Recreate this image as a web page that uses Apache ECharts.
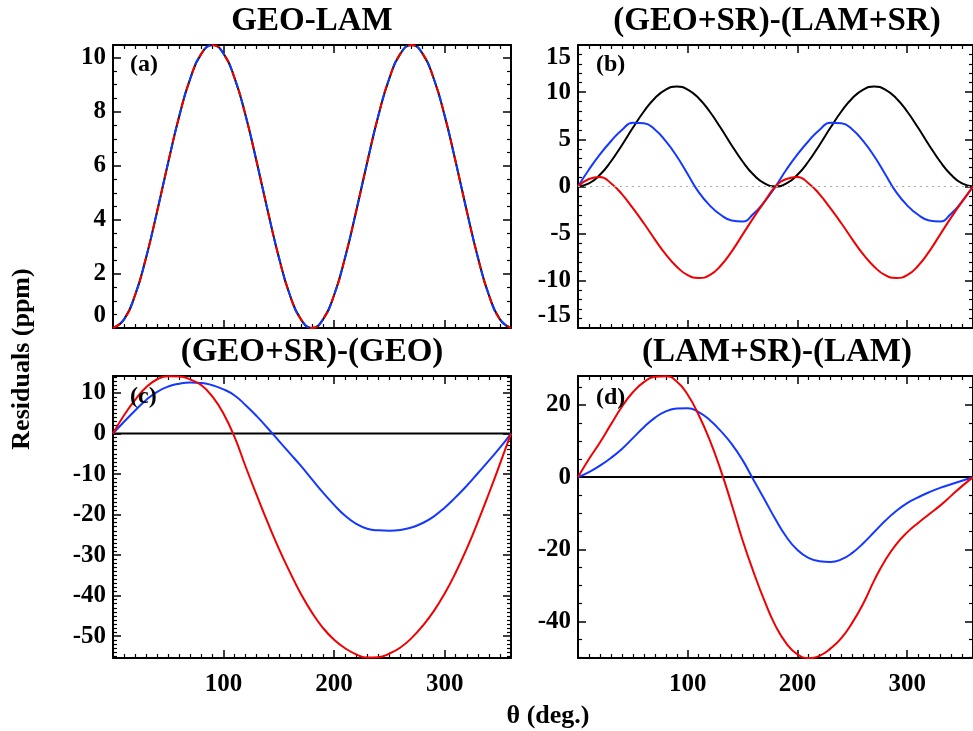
<!DOCTYPE html>
<html><head><meta charset="utf-8">
<script src="https://cdn.jsdelivr.net/npm/echarts@6/dist/echarts.min.js"></script>
<style>html,body{margin:0;padding:0;background:#fff}#c{width:973px;height:731px}</style>
</head><body><div id="c"></div>
<script>
// ---- data ----
const theta = [0,10,20,30,40,50,60,70,80,90,100,110,120,130,140,150,160,170,180,190,200,210,220,230,240,250,260,270,280,290,300,310,320,330,340,350,360];

const aGeoLam = [0,0.32,1.22,2.62,4.33,6.14,7.85,9.24,10.15,10.47,10.15,9.24,7.85,6.14,4.33,2.62,1.22,0.32,0,0.32,1.22,2.62,4.33,6.14,7.85,9.24,10.15,10.47,10.15,9.24,7.85,6.14,4.33,2.62,1.22,0.32,0];

const bBlack = [0,0.32,1.24,2.65,4.38,6.22,7.95,9.36,10.28,10.6,10.28,9.36,7.95,6.22,4.38,2.65,1.24,0.32,0,0.32,1.24,2.65,4.38,6.22,7.95,9.36,10.28,10.6,10.28,9.36,7.95,6.22,4.38,2.65,1.24,0.32,0];
const bBlue = [0,1.8,3.4,4.8,6.0,6.75,6.7,6.05,4.8,3.2,1.3,-0.6,-2.0,-3.0,-3.6,-3.7,-2.9,-1.6,0,1.8,3.4,4.8,6.0,6.75,6.7,6.05,4.8,3.2,1.3,-0.6,-2.0,-3.0,-3.6,-3.7,-2.9,-1.6,0];
const bRed = [0,0.8,1.0,0.35,-0.8,-2.3,-3.9,-5.6,-7.2,-8.5,-9.4,-9.7,-9.4,-8.4,-6.9,-5.1,-3.3,-1.6,0,0.8,1.0,0.35,-0.8,-2.3,-3.9,-5.6,-7.2,-8.5,-9.4,-9.7,-9.4,-8.4,-6.9,-5.1,-3.3,-1.6,0];

const cBlack = [0,0,0,0,0,0,0,0,0,0,0,0,0,0,0,0,0,0,0,0,0,0,0,0,0,0,0,0,0,0,0,0,0,0,0,0,0];
const cBlue = [0,2.9,5.7,8.3,10.3,11.6,12.3,12.6,12.5,11.9,10.9,9.4,7.0,4.3,1.3,-1.8,-4.9,-8.0,-11.3,-14.6,-17.6,-20.3,-22.3,-23.5,-23.9,-24.0,-23.8,-23.2,-22.1,-20.5,-18.3,-15.7,-12.9,-9.8,-6.7,-3.5,0];
const cRed = [0,4.5,8.3,11.4,13.4,14.15,14.1,13.3,11.9,9.1,4.9,-0.9,-8.2,-15.2,-22.0,-28.4,-34.2,-39.6,-44.2,-48.0,-50.9,-53.0,-54.5,-55.3,-55.2,-54.3,-52.8,-50.5,-47.5,-43.9,-39.5,-34.3,-28.4,-21.8,-14.8,-7.5,0];

const dBlack = [0,0,0,0,0,0,0,0,0,0,0,0,0,0,0,0,0,0,0,0,0,0,0,0,0,0,0,0,0,0,0,0,0,0,0,0,0];
const dBlue = [0,1.4,3.2,5.3,7.8,10.8,13.8,16.4,18.2,19.0,19.1,18.0,15.8,12.8,9.2,4.7,-0.8,-6.2,-11.7,-16.6,-20.2,-22.4,-23.3,-23.5,-22.8,-21.0,-18.3,-15.2,-12.1,-9.4,-7.2,-5.6,-4.2,-3.0,-2.0,-1.0,0];
const dRed = [0,5.0,9.6,14.6,19.5,23.5,26.3,27.8,27.9,26.5,22.8,17.2,10.3,2.0,-7.5,-17.5,-26.3,-34.3,-41.2,-46.1,-49.1,-50.1,-49.5,-47.5,-44.6,-40.3,-35.0,-28.6,-23.0,-18.6,-15.3,-12.7,-10.3,-7.9,-5.2,-2.5,0];

const panelTitles = ['GEO-LAM','(GEO+SR)-(LAM+SR)','(GEO+SR)-(GEO)','(LAM+SR)-(LAM)'];
const panelTags = ['(a)','(b)','(c)','(d)'];
const xTitle = 'θ (deg.)';
const yTitle = 'Residuals (ppm)';

// ---- layout / styles ----
const FONT = '"Liberation Serif", "DejaVu Serif", serif';
const RED = '#f00000', BLUE = '#1438ff', BLACK = '#000000';
const grids = [
  {left:113, top:45, width:398, height:283},
  {left:578, top:45, width:397, height:283},
  {left:113, top:376, width:398, height:282},
  {left:578, top:376, width:397, height:282}
];
const yCfg = [
  {min:0, max:10.47, interval:2, minor:4, showMin:true, showMax:false},
  {min:-15, max:15, interval:5, minor:5, showMin:true, showMax:true},
  {min:-55.4, max:14.2, splitNumber:7, minor:10, showMin:false, showMax:false},
  {min:-50.1, max:28, splitNumber:4, minor:4, showMin:false, showMax:false}
];

const zip = (ys) => theta.map((t, i) => [t, ys[i]]);
const lineStyleAxis = {color:'#000', width:2};
const labelStyle = {color:'#000', fontFamily:FONT, fontWeight:'bold', fontSize:25};

const xAxes = [], yAxes = [];
grids.forEach((g, i) => {
  ['bottom','top'].forEach(pos => {
    xAxes.push({
      gridIndex:i, type:'value', position:pos, min:0, max:360, interval:100,
      axisLine:{show:true, onZero:false, lineStyle:lineStyleAxis},
      axisTick:{show:true, inside:true, length:8, lineStyle:{color:'#000', width:1.5}},
      minorTick:{show:true, splitNumber:10, length:4, lineStyle:{color:'#000', width:1.2}},
      splitLine:{show:false}, minorSplitLine:{show:false},
      axisLabel:Object.assign({show: pos==='bottom' && i>=2, margin:14, showMinLabel:false, showMaxLabel:false}, labelStyle)
    });
  });
  const c = yCfg[i];
  ['left','right'].forEach(pos => {
    const ax = {
      gridIndex:i, type:'value', position:pos, min:c.min, max:c.max,
      axisLine:{show:true, onZero:false, lineStyle:lineStyleAxis},
      axisTick:{show:true, inside:true, length:8, lineStyle:{color:'#000', width:1.5}},
      minorTick:{show:true, splitNumber:c.minor, length:4, lineStyle:{color:'#000', width:1.2}},
      splitLine:{show:false}, minorSplitLine:{show:false},
      axisLabel:Object.assign({show: pos==='left', margin:7, showMinLabel:c.showMin, showMaxLabel:c.showMax,
        verticalAlignMinLabel:'bottom', verticalAlignMaxLabel:'top'}, labelStyle)
    };
    if (c.interval) ax.interval = c.interval; else ax.splitNumber = c.splitNumber;
    yAxes.push(ax);
  });
});

function line(gi, ys, color, extra) {
  return Object.assign({
    type:'line', xAxisIndex:gi*2, yAxisIndex:gi*2, data:zip(ys), smooth:0.5,
    showSymbol:false, symbol:'none', clip:true, silent:true,
    lineStyle:{color:color, width:2}
  }, extra || {});
}

const series = [
  line(0, aGeoLam, BLACK),
  line(0, aGeoLam, RED, {lineStyle:{color:RED, width:2, type:[8,10]}}),
  line(0, aGeoLam, BLUE, {lineStyle:{color:BLUE, width:2, type:[8,10], dashOffset:9}}),
  line(1, bBlack, BLACK, {markLine:{silent:true, symbol:'none', label:{show:false},
      lineStyle:{color:'#aaaaaa', width:1, type:[2,4]}, data:[{yAxis:0}]}}),
  line(1, bBlue, BLUE),
  line(1, bRed, RED),
  line(2, cBlack, BLACK),
  line(2, cBlue, BLUE),
  line(2, cRed, RED),
  line(3, dBlack, BLACK),
  line(3, dBlue, BLUE),
  line(3, dRed, RED)
];

const titlePos = [[312,21],[777,21],[312,352],[777,352]];
const tagPos = [[130,65],[596,65],[130,397],[596,398]];
const graphic = [];
panelTitles.forEach((t, i) => graphic.push({type:'text', x:titlePos[i][0], y:titlePos[i][1], z:100,
  style:{text:t, font:'bold 33px ' + FONT, fill:'#000', align:'center', verticalAlign:'middle'}}));
panelTags.forEach((t, i) => graphic.push({type:'text', x:tagPos[i][0], y:tagPos[i][1], z:100,
  style:{text:t, font:'bold 24px ' + FONT, fill:'#000', align:'left', verticalAlign:'middle'}}));
graphic.push({type:'text', x:548, y:716, z:100,
  style:{text:xTitle, font:'bold 26px ' + FONT, fill:'#000', align:'center', verticalAlign:'middle'}});
graphic.push({type:'text', x:22, y:359, rotation:Math.PI/2, z:100,
  style:{text:yTitle, font:'bold 26px ' + FONT, fill:'#000', align:'center', verticalAlign:'middle'}});

const chart = echarts.init(document.getElementById('c'), null, {renderer:'canvas'});
chart.setOption({
  animation:false, backgroundColor:'#fff',
  grid:grids.map(g => Object.assign({containLabel:false}, g)),
  xAxis:xAxes, yAxis:yAxes, series:series, graphic:graphic
});
</script></body></html>
